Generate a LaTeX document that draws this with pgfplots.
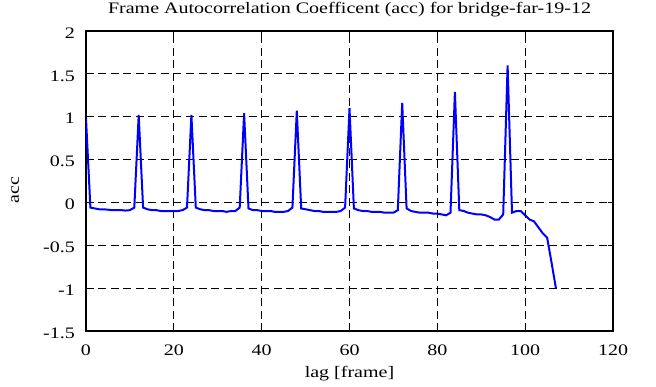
\documentclass[border=0pt]{standalone}
\usepackage{fontspec}
\setmainfont{Liberation Serif}[FakeStretch=1.25]
\usepackage{pgfplots}
\pgfplotsset{compat=1.18}
\pgfplotstableread{
lag acc
0 0.98
1 -0.06
2 -0.07
3 -0.08
4 -0.08
5 -0.085
6 -0.09
7 -0.09
8 -0.09
9 -0.095
10 -0.09
11 -0.06
12 1.02
13 -0.06
14 -0.08
15 -0.09
16 -0.09
17 -0.10
18 -0.10
19 -0.10
20 -0.10
21 -0.10
22 -0.09
23 -0.06
24 1.02
25 -0.06
26 -0.08
27 -0.09
28 -0.09
29 -0.10
30 -0.10
31 -0.10
32 -0.11
33 -0.10
34 -0.10
35 -0.06
36 1.04
37 -0.07
38 -0.09
39 -0.09
40 -0.10
41 -0.10
42 -0.10
43 -0.11
44 -0.11
45 -0.11
46 -0.10
47 -0.06
48 1.07
49 -0.07
50 -0.08
51 -0.09
52 -0.10
53 -0.10
54 -0.11
55 -0.11
56 -0.11
57 -0.11
58 -0.10
59 -0.06
60 1.10
61 -0.07
62 -0.09
63 -0.10
64 -0.10
65 -0.11
66 -0.11
67 -0.11
68 -0.12
69 -0.12
70 -0.12
71 -0.09
72 1.16
73 -0.07
74 -0.10
75 -0.11
76 -0.12
77 -0.12
78 -0.12
79 -0.13
80 -0.13
81 -0.14
82 -0.15
83 -0.12
84 1.29
85 -0.09
86 -0.10
87 -0.12
88 -0.13
89 -0.14
90 -0.14
91 -0.15
92 -0.17
93 -0.20
94 -0.20
95 -0.14
96 1.60
97 -0.12
98 -0.10
99 -0.10
100 -0.15
101 -0.20
102 -0.22
103 -0.29
104 -0.36
105 -0.41
106 -0.70
107 -1.00
}\acctable
\begin{document}
\fontsize{16bp}{19bp}\selectfont
\begin{tikzpicture}
\path[use as bounding box] (-86bp,-56bp) rectangle (570bp,331bp);
\begin{axis}[
  scale only axis,
  width=527bp, height=300bp,
  xmin=0, xmax=120, ymin=-1.5, ymax=2,
  xtick={0,20,...,120},
  ytick={-1.5,-1,...,2},
  /pgf/number format/assume math mode=true,
  tick align=inside,
  major tick length=5bp,
  axis line style={line width=1.6bp},
  every tick/.style={black, line width=1.2bp},
  grid=major,
  major grid style={black, line width=0.8bp, dash pattern=on 8bp off 4.5bp},
  xticklabel style={anchor=base, yshift=-24bp, inner sep=0pt},
  yticklabel style={anchor=east, xshift=-11bp, yshift=-2bp, inner sep=0pt},
  title={Frame Autocorrelation Coefficent (acc) for bridge-far-19-12},
  every axis title shift=0pt,
  title style={at={(axis description cs:0.5,1)}, anchor=base, yshift=17bp, inner sep=0pt},
  xlabel={lag [frame]},
  xlabel style={at={(axis description cs:0.5,0)}, anchor=base, yshift=-46.5bp, inner sep=0pt},
  ylabel={acc},
  ylabel style={at={(axis description cs:0,0.5)}, anchor=base, yshift=67bp, xshift=-9bp, inner sep=0pt},
]
\addplot[color={rgb,255:red,0;green,0;blue,255}, line width=2bp, sharp plot, mark=none] table[x=lag, y=acc] {\acctable};
\end{axis}
\end{tikzpicture}
\end{document}
